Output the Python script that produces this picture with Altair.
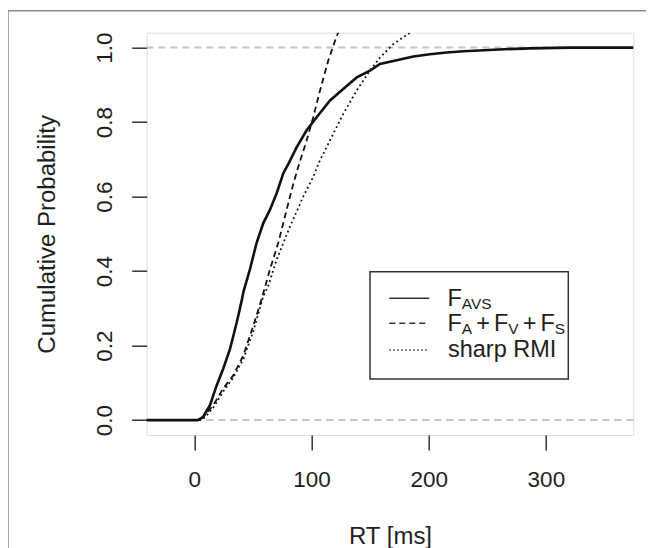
import altair as alt
import pandas as pd

# ---- data ----
avs_x = [-45, 3, 7.6, 13.4, 19.1, 24.7, 30.5, 36.2, 40.4, 42, 47.5, 53.2, 58.9, 64.6, 70.3,
         75.9, 80.2, 87.4, 95.9, 104.4, 115.8, 127.1, 138.6, 149.9, 158.4, 172.7, 186.9,
         201.1, 215.4, 229.5, 260, 286.4, 320, 380]
avs_y = [0, 0, 0.009, 0.04, 0.093, 0.138, 0.191, 0.262, 0.32, 0.345, 0.405, 0.476, 0.529,
         0.565, 0.609, 0.662, 0.687, 0.733, 0.778, 0.813, 0.858, 0.889, 0.92, 0.938, 0.956,
         0.966, 0.976, 0.982, 0.987, 0.990, 0.995, 0.998, 1.0, 1.0]

sum_x = [-45, 5, 9.1, 16.2, 24.7, 33.3, 41.8, 50.3, 57.5, 64.6, 71.7, 77.4, 83.1, 88.7,
         95.9, 101.5, 107.3, 114.3, 120, 125]
sum_y = [0, 0, 0.013, 0.04, 0.085, 0.12, 0.173, 0.253, 0.325, 0.405, 0.476, 0.547, 0.618,
         0.68, 0.751, 0.813, 0.885, 0.965, 1.017, 1.06]

rmi_x = [-45, 6, 10, 16.5, 25, 33.5, 42, 50.5, 58.9, 63.1, 70.3, 81.7, 93, 101.5, 107.3,
         115.8, 127.1, 138.6, 149.9, 158.4, 169.8, 184, 190]
rmi_y = [0, 0, 0.01, 0.035, 0.078, 0.115, 0.165, 0.24, 0.333, 0.36, 0.431, 0.52, 0.6,
         0.653, 0.698, 0.751, 0.822, 0.885, 0.938, 0.973, 1.009, 1.04, 1.06]

ref_levels = [0.0, 1.0]
x_ticks = [0, 100, 200, 300]
y_ticks = [0.0, 0.2, 0.4, 0.6, 0.8, 1.0]

FONT = "Liberation Sans"
INK = "#1e1e1e"

xs = alt.Scale(domain=[-40.6, 374.6], nice=False, zero=False)
ys = alt.Scale(domain=[-0.04, 1.04], nice=False, zero=False)

xaxis = alt.Axis(values=x_ticks, grid=False, domain=False, tickSize=15, tickColor="#333",
                 tickWidth=1.5, labelFont=FONT, labelFontSize=22.5, labelColor=INK,
                 labelBaseline="alphabetic", labelPadding=36.7, labelFlush=False,
                 title="RT [ms]", titleFont=FONT, titleFontSize=24, titleFontWeight="normal",
                 titleColor=INK, titleBaseline="alphabetic", titleY=108.3)
yaxis = alt.Axis(values=y_ticks, format=".1f", grid=False, domain=False, tickSize=15,
                 tickColor="#333", tickWidth=1.5, labelFont=FONT, labelFontSize=22.5,
                 labelColor=INK, labelAngle=270, labelAlign="center",
                 labelBaseline="alphabetic", labelPadding=20.5, labelFlush=False,
                 title="Cumulative Probability", titleFont=FONT, titleFontSize=24,
                 titleFontWeight="normal", titleColor=INK, titleAngle=270,
                 titleBaseline="alphabetic", titleAlign="center", titleX=-91.7)

ref_df = pd.DataFrame({"y": ref_levels})
refs = alt.Chart(ref_df).mark_rule(color="#c4c4c4", strokeWidth=2, strokeDash=[7, 5]).encode(
    y=alt.Y("y:Q", scale=ys, axis=yaxis)
)


def curve(xv, yv, **kw):
    df = pd.DataFrame({"x": xv, "y": yv})
    return alt.Chart(df).mark_line(clip=True, color="#111111", **kw).encode(
        x=alt.X("x:Q", scale=xs, axis=xaxis),
        y=alt.Y("y:Q", scale=ys, axis=yaxis),
        order="x:Q",
    )


l_avs = curve(avs_x, avs_y, strokeWidth=2.6)
l_sum = curve(sum_x, sum_y, strokeWidth=1.8, strokeDash=[6, 4])
l_rmi = curve(rmi_x, rmi_y, strokeWidth=1.8, strokeDash=[1.8, 3])

# ---- legend (manual, R style) ----
anchor = alt.Chart(pd.DataFrame({"a": [0]}))
box = anchor.mark_rect(fill="white", stroke="#333", strokeWidth=1.5).encode(
    x=alt.value(223.3), x2=alt.value(421.6), y=alt.value(239), y2=alt.value(346.3))
leg_lines = [
    anchor.mark_rule(color="#333", strokeWidth=1.5).encode(
        x=alt.value(242.6), x2=alt.value(282.6), y=alt.value(265.6)),
    anchor.mark_rule(color="#333", strokeWidth=1.5, strokeDash=[6, 4]).encode(
        x=alt.value(242.6), x2=alt.value(282.6), y=alt.value(290.6)),
    anchor.mark_rule(color="#333", strokeWidth=1.5, strokeDash=[1.5, 2.5]).encode(
        x=alt.value(242.6), x2=alt.value(282.6), y=alt.value(317.3)),
]
BIG, SUB = 23.5, 15.5
x0 = 300.7
pieces = [
    ("F", x0, 273.3, BIG), ("AVS", x0 + 14.4, 276.3, SUB),
    ("F", x0, 298.6, BIG), ("A", x0 + 14.4, 301.6, SUB), ("+", x0 + 28.8, 298.6, BIG),
    ("F", x0 + 46.5, 298.6, BIG), ("V", x0 + 60.9, 301.6, SUB), ("+", x0 + 75.3, 298.6, BIG),
    ("F", x0 + 93.0, 298.6, BIG), ("S", x0 + 107.4, 301.6, SUB),
    ("sharp RMI", x0 + 0.6, 324.0, BIG),
]
texts = [
    anchor.mark_text(font=FONT, fontSize=s, color=INK, align="left", baseline="alphabetic").encode(
        x=alt.value(px), y=alt.value(py), text=alt.value(t))
    for (t, px, py, s) in pieces
]

# outer figure frame
frame = [
    anchor.mark_rule(color="#8a8a8a", strokeWidth=1.5).encode(
        x=alt.value(-138.7), y=alt.value(-22), y2=alt.value(700)),
    anchor.mark_rule(color="#8a8a8a", strokeWidth=1.5).encode(
        x=alt.value(-138.7), x2=alt.value(700), y=alt.value(-22)),
]

chart = alt.layer(refs, l_rmi, l_sum, l_avs, box, *leg_lines, *texts, *frame).properties(
    width=486.6, height=402.3,
    autosize=alt.AutoSizeParams(type="none"),
    padding={"left": 138.7, "top": 24.7, "right": 13, "bottom": 113},
).configure_view(stroke="#333", strokeWidth=1.5).configure(background="white")

chart.save("out.html", embed_options={"renderer": "svg", "actions": False})
